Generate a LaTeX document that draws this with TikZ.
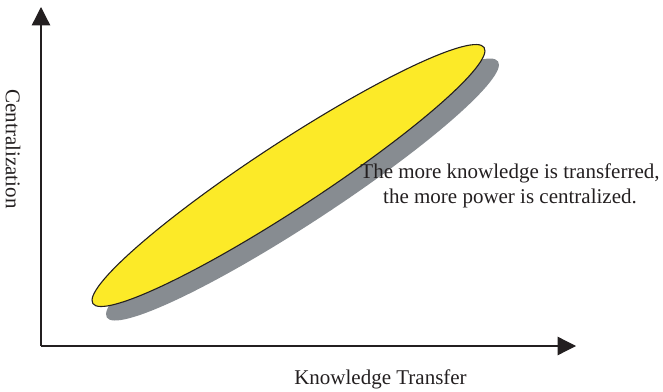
\documentclass[tikz,border=0pt]{standalone}
\usepackage{fontspec}
\setmainfont{Liberation Serif}
\usetikzlibrary{arrows.meta,positioning}
\definecolor{blobyellow}{RGB}{252,234,40}
\definecolor{shadowgray}{RGB}{135,140,145}
\definecolor{inkblack}{RGB}{35,31,32}
\begin{document}
\begin{tikzpicture}[x=1pt,y=1pt]
		\tikzstyle{axisline} =[draw=inkblack, line width=1.3pt, -{Triangle[length=18.5pt,width=18.5pt]}];
		\tikzstyle{axislabel} =[text=inkblack, font=\fontsize{21}{25}\selectfont, inner sep=0pt];
		\useasboundingbox (0,0) rectangle (663,391);
		\coordinate (origin) at (41,45);
		\coordinate (ytip) at (41,384);
		\coordinate (xtip) at (576,45);
		\coordinate (blob) at (288.5,215.5);
		\coordinate (shade) at (302.5,201.5);
		
		\fill[shadowgray, rotate around={33.2:(shade)}] (shade) ellipse [x radius=233.8, y radius=33];
		\filldraw[fill=blobyellow, draw=inkblack, line width=1.1pt, rotate around={33.2:(blob)}] (blob) ellipse [x radius=233.8, y radius=33];
		
		\draw[axisline] (origin) -- (ytip);
		\draw[axisline] (origin) -- (xtip);
		
		\node[axislabel, anchor=base] (xlabel) at (380.5,7) {Knowledge Transfer};
		\node[axislabel, rotate=-90] (ylabel) at (13,242) {Centralization};
		\node[axislabel, align=center] (claim) at (510,204.7) {The more knowledge is transferred,\\the more power is centralized.};
	\end{tikzpicture}
\end{document}
